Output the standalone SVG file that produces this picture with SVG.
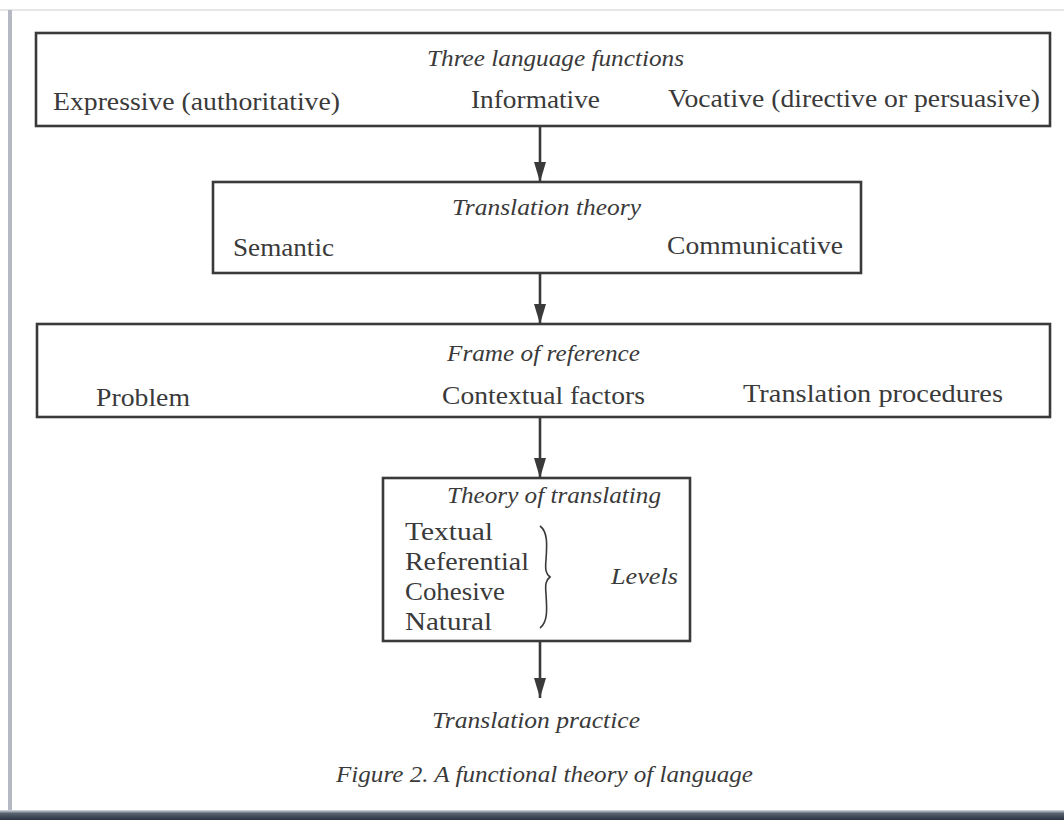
<svg xmlns="http://www.w3.org/2000/svg" width="1064" height="820" viewBox="0 0 1064 820">
<defs>
<style>
.box{fill:none;stroke:#3a3a3a;stroke-width:2.6}
.t{font-family:"Liberation Serif","DejaVu Serif",serif;font-size:26px;fill:#3a3a3a}
.i{font-family:"Liberation Serif","DejaVu Serif",serif;font-style:italic;font-size:23px;fill:#3a3a3a}
.cap{font-size:24px}
.ln{stroke:#3a3a3a;stroke-width:2.6;fill:none}
</style>
<marker id="ah" viewBox="0 0 20 12" refX="20" refY="6" markerWidth="20" markerHeight="12" markerUnits="userSpaceOnUse" orient="auto">
<path d="M0,0 L20,6 L0,12 Z" fill="#3a3a3a"/>
</marker>
<linearGradient id="bot" x1="0" y1="0" x2="0" y2="1">
<stop offset="0" stop-color="#d8dce2"/>
<stop offset="0.35" stop-color="#56606e"/>
<stop offset="1" stop-color="#2c3442"/>
</linearGradient>
</defs>
<rect x="0" y="0" width="1064" height="820" fill="#ffffff"/>
<rect x="0" y="9" width="1064" height="2" fill="#e6e6e6"/>
<rect x="8" y="10" width="4" height="806" fill="#b4b9c4"/>
<rect x="0" y="810" width="1064" height="10" fill="url(#bot)"/>

<g id="connectors">
<line class="ln" x1="540" y1="127" x2="540" y2="182" marker-end="url(#ah)"/>
<line class="ln" x1="540" y1="273" x2="540" y2="324" marker-end="url(#ah)"/>
<line class="ln" x1="540" y1="417" x2="540" y2="478" marker-end="url(#ah)"/>
<line class="ln" x1="540" y1="641" x2="540" y2="698" marker-end="url(#ah)"/>
</g>

<g id="node-functions">
<rect class="box" x="36" y="33" width="1014" height="93"/>
<text class="i" x="427" y="66" textLength="257" lengthAdjust="spacingAndGlyphs">Three language functions</text>
<text class="t" x="53" y="110" textLength="287" lengthAdjust="spacingAndGlyphs">Expressive (authoritative)</text>
<text class="t" x="471" y="108" textLength="129" lengthAdjust="spacingAndGlyphs">Informative</text>
<text class="t" x="668" y="107" textLength="372" lengthAdjust="spacingAndGlyphs">Vocative (directive or persuasive)</text>
</g>

<g id="node-theory">
<rect class="box" x="213" y="182" width="648" height="91"/>
<text class="i" x="452" y="215" textLength="189" lengthAdjust="spacingAndGlyphs">Translation theory</text>
<text class="t" x="233" y="256" textLength="101" lengthAdjust="spacingAndGlyphs">Semantic</text>
<text class="t" x="667" y="254" textLength="176" lengthAdjust="spacingAndGlyphs">Communicative</text>
</g>

<g id="node-frame">
<rect class="box" x="37" y="324" width="1013" height="93"/>
<text class="i" x="447" y="361" textLength="193" lengthAdjust="spacingAndGlyphs">Frame of reference</text>
<text class="t" x="96" y="406" textLength="94" lengthAdjust="spacingAndGlyphs">Problem</text>
<text class="t" x="442" y="404" textLength="203" lengthAdjust="spacingAndGlyphs">Contextual factors</text>
<text class="t" x="743" y="402" textLength="260" lengthAdjust="spacingAndGlyphs">Translation procedures</text>
</g>

<g id="node-translating">
<rect class="box" x="383" y="478" width="307" height="163"/>
<text class="i" x="447" y="503" textLength="214" lengthAdjust="spacingAndGlyphs">Theory of translating</text>
<text class="t" x="405" y="540" textLength="88" lengthAdjust="spacingAndGlyphs">Textual</text>
<text class="t" x="405" y="570" textLength="124" lengthAdjust="spacingAndGlyphs">Referential</text>
<text class="t" x="405" y="600" textLength="100" lengthAdjust="spacingAndGlyphs">Cohesive</text>
<text class="t" x="405" y="630" textLength="87" lengthAdjust="spacingAndGlyphs">Natural</text>
<path d="M540,526 C548,532 547,545 546,560 C545,570 546,574 550,577 C546,580 545,584 546,594 C547,609 548,622 540,628" fill="none" stroke="#3a3a3a" stroke-width="1.6"/>
<text class="i" x="611" y="584" textLength="67" lengthAdjust="spacingAndGlyphs">Levels</text>
</g>

<g id="node-practice">
<text class="i" x="432" y="728" textLength="208" lengthAdjust="spacingAndGlyphs">Translation practice</text>
</g>

<text class="i cap" x="336" y="782" textLength="417" lengthAdjust="spacingAndGlyphs">Figure 2. A functional theory of language</text>
</svg>
